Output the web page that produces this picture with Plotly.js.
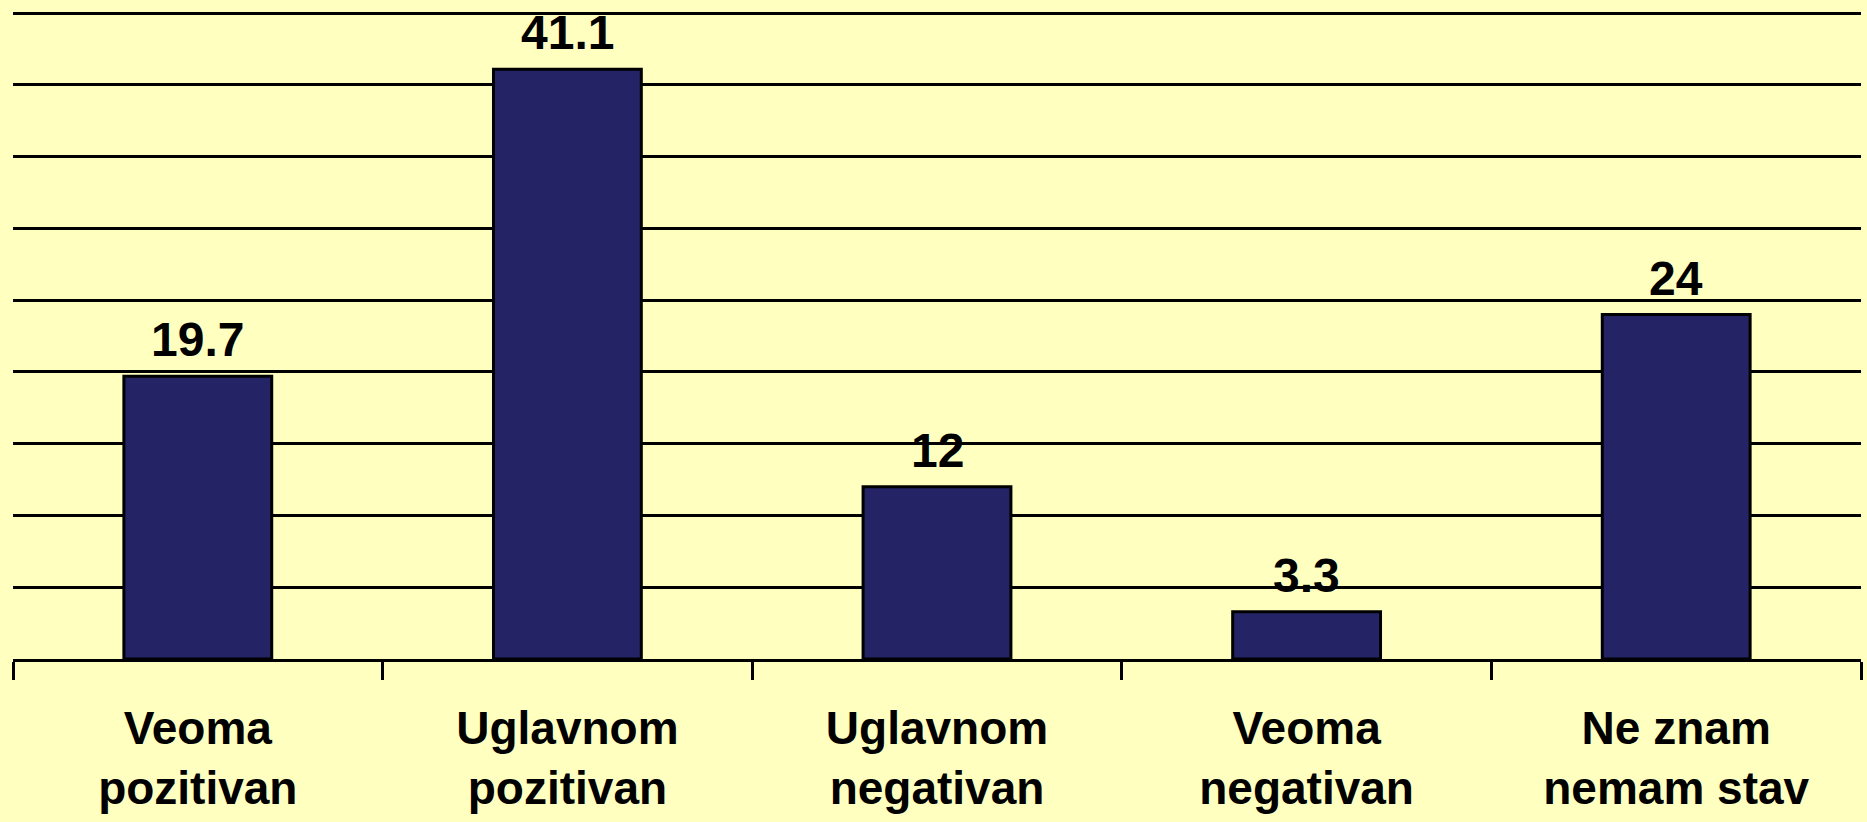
<!DOCTYPE html>
<html>
<head>
<meta charset="utf-8">
<script src="https://cdn.plot.ly/plotly-3.0.1.min.js"></script>
<style>
  html, body { margin: 0; padding: 0; background: #FFFFC0; }
  #chart { width: 1867px; height: 822px; }
</style>
</head>
<body>
<div id="chart"></div>
<script>
const categories = ["Veoma<br>pozitivan", "Uglavnom<br>pozitivan", "Uglavnom<br>negativan", "Veoma<br>negativan", "Ne znam<br>nemam stav"];
const values = [19.7, 41.1, 12, 3.3, 24];
const valueLabels = ["19.7", "41.1", "12", "3.3", "24"];

const trace = {
  type: "bar",
  x: categories,
  y: values,
  marker: { color: "#232366", line: { color: "#000000", width: 3 } },
  hoverinfo: "none"
};

const annotations = categories.map((c, i) => ({
  x: c, y: values[i], xref: "x", yref: "y",
  text: valueLabels[i], showarrow: false,
  yanchor: "bottom", yshift: 8,
  font: { family: "Liberation Sans, Arial, sans-serif", size: 48, color: "#000000", weight: "bold" }
}));

const layout = {
  width: 1867, height: 822,
  paper_bgcolor: "#FFFFC0",
  plot_bgcolor: "#FFFFC0",
  margin: { l: 13, r: 6, t: 6, b: 163 },
  bargap: 0.6,
  showlegend: false,
  font: { family: "Liberation Sans, Arial, sans-serif", color: "#000000" },
  xaxis: {
    type: "category",
    showline: true, linecolor: "#000000", linewidth: 3,
    ticks: "outside", tickson: "boundaries", ticklen: 18, tickwidth: 3, tickcolor: "#000000",
    ticklabelstandoff: 27,
    tickfont: { family: "Liberation Sans, Arial, sans-serif", size: 46, color: "#000000", weight: "bold" },
    showgrid: false, fixedrange: true
  },
  yaxis: {
    range: [0, 45.5], dtick: 5, tick0: 0,
    showgrid: true, gridcolor: "#000000", gridwidth: 3,
    showticklabels: false, ticks: "", showline: false, zeroline: false,
    fixedrange: true
  },
  annotations: annotations
};

Plotly.newPlot("chart", [trace], layout, { displayModeBar: false, staticPlot: true });
</script>
</body>
</html>
